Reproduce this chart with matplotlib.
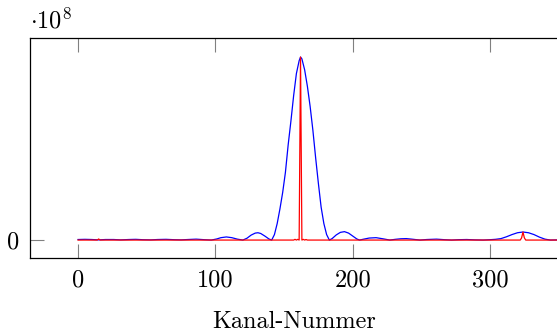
"""Spectrum of one channel sweep: FFT magnitude (blue) vs. peak detection (red)."""

import matplotlib
matplotlib.use("Agg")
import matplotlib.pyplot as plt

plt.rcParams["font.family"] = "cmr10"
plt.rcParams["mathtext.fontset"] = "cm"
plt.rcParams["axes.unicode_minus"] = False

# values in units of 10^8
blue_ch = [0, 5, 10, 15, 20, 26, 31, 37, 42, 47, 53, 58, 64, 70, 75, 80, 86, 92, 97,
           101, 104, 108, 112, 116, 120, 123, 126, 129, 131, 133, 136, 139,
           141, 143, 145, 147, 149, 151, 153, 155, 157, 159, 161, 162, 163, 165,
           167, 169, 171, 173, 175, 177, 179, 181, 183,
           185, 188, 191, 194, 197, 200, 203, 205, 208, 212, 217, 222, 227,
           231, 235, 239, 243, 249, 254, 261, 267, 272, 277, 283, 289, 295,
           300, 304, 308, 312, 316, 320, 324, 328, 332, 336, 340, 344,
           350, 360, 370, 385]
blue_val = [0.003, 0.004, 0.003, 0.001, 0.003, 0.003, 0.001, 0.003, 0.004, 0.002,
            0.001, 0.003, 0.004, 0.002, 0.001, 0.003, 0.005, 0.002, 0.0,
            0.006, 0.013, 0.017, 0.013, 0.005, 0.0, 0.010, 0.027, 0.038, 0.040,
            0.036, 0.022, 0.006,
            0.0, 0.03, 0.09, 0.17, 0.26, 0.37, 0.52, 0.65, 0.79, 0.91, 0.98, 1.0,
            0.99, 0.93, 0.84, 0.73, 0.60, 0.45, 0.31, 0.18, 0.09, 0.03, 0.0,
            0.008, 0.028, 0.042, 0.046, 0.038, 0.022, 0.006, 0.0, 0.005, 0.011,
            0.013, 0.007, 0.0, 0.004, 0.007, 0.008, 0.005, 0.0, 0.003, 0.005,
            0.002, 0.0, 0.002, 0.003, 0.001, 0.0,
            0.002, 0.004, 0.008, 0.018, 0.030, 0.040, 0.044, 0.040, 0.030, 0.016,
            0.005, 0.0, 0.001, 0.001, 0.001, 0.001]

red_ch = [0, 14, 15, 16, 157, 158, 159, 160, 161, 162, 163, 164, 165, 166, 167,
          322, 323, 324, 325, 326, 385]
red_val = [0.0, 0.0, 0.006, 0.0, 0.0, 0.004, 0.0, 0.004, 0.0, 1.0, 0.0, 0.004,
           0.0, 0.003, 0.0, 0.0, 0.012, 0.044, 0.012, 0.0, 0.0]

xticks = [0, 100, 200, 300]
yticks = [0]

fig = plt.figure(figsize=(5.57, 3.33), dpi=100)
ax = fig.add_axes([30 / 557, 75 / 333, 528 / 557, 220 / 333])

ax.plot(blue_ch, blue_val, color="#0000ff", lw=0.9)
ax.plot(red_ch, red_val, color="#ff0000", lw=0.9)

ax.set_xlim(-35, 349.5)
ax.set_ylim(-0.098, 1.104)
ax.set_xticks(xticks)
ax.set_xticklabels([str(t) for t in xticks])
ax.set_yticks(yticks)
ax.set_yticklabels(["0"])
ax.tick_params(direction="in", length=10, width=0.8, color="#808080",
               labelsize=17.5, top=True, pad=8)
for sp in ax.spines.values():
    sp.set_linewidth(0.9)
ax.spines["right"].set_visible(False)

ax.set_xlabel("Kanal-Nummer", fontsize=17.5, labelpad=14)
ax.text(0.0, 1.02, r"$\cdot 10^{8}$", transform=ax.transAxes, fontsize=17.5,
        ha="left", va="bottom")

fig.savefig("out.png", dpi=100)
